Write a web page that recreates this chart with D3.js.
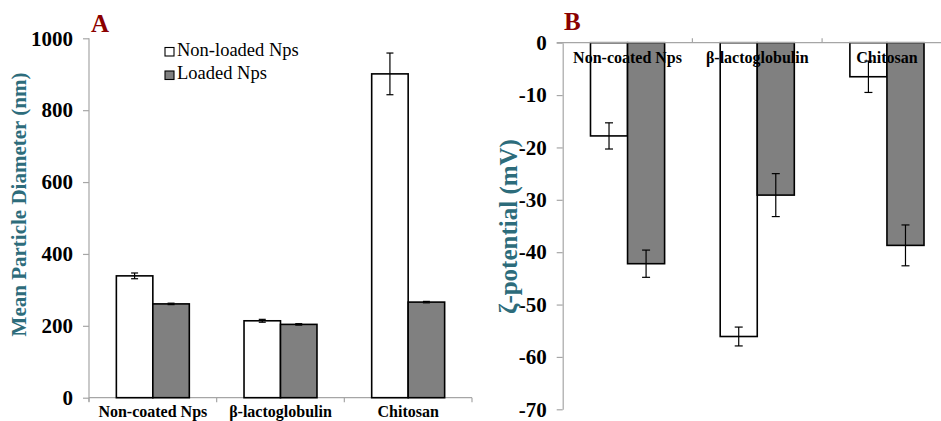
<!DOCTYPE html>
<html><head><meta charset="utf-8">
<script src="https://cdn.jsdelivr.net/npm/d3@7"></script>
<style>
body{margin:0;background:#fff;}
svg text{font-family:"Liberation Serif","Times New Roman",serif !important;}
</style></head>
<body><svg id="c" width="941" height="421"></svg>
<script>
const categories = ["Non-coated Nps", "β-lactoglobulin", "Chitosan"];
const series = ["Non-loaded Nps", "Loaded Nps"];
// Panel A: mean particle diameter (nm)
const sizeNonLoaded = [339, 214, 901];
const sizeNonLoadedErr = [8, 4, 58];
const sizeLoaded = [261, 204, 266];
const sizeLoadedErr = [2, 2, 2];
const sizeTicks = [0, 200, 400, 600, 800, 1000];
// Panel B: zeta potential (mV)
const zetaNonLoaded = [-17.8, -56.1, -6.5];
const zetaNonLoadedErr = [2.5, 1.8, 3.0];
const zetaLoaded = [-42.2, -29.1, -38.7];
const zetaLoadedErr = [2.6, 4.1, 3.9];
const zetaTicks = [0, -10, -20, -30, -40, -50, -60, -70];

const colors = {"Non-loaded Nps": "#ffffff", "Loaded Nps": "#808080"};
const axisColor = "#a6a6a6";
const titleColor = "#2d6c7b";
const letterColor = "#8b0000";

const svg = d3.select("#c");

function rows(vA, eA, vB, eB) {
  return categories.map((c, i) => ({cat: c, vals: [
    {s: series[0], v: vA[i], e: eA[i]},
    {s: series[1], v: vB[i], e: eB[i]}
  ]}));
}

function styleYAxis(g, fs) {
  g.attr("font-family", null);
  g.select(".domain").attr("stroke", axisColor).attr("stroke-width", 1.2);
  g.selectAll(".tick line").attr("stroke", axisColor).attr("stroke-width", 1.2);
  g.selectAll(".tick text").attr("font-size", fs).attr("font-weight", "bold").attr("fill", "#000");
}

const plainFmt = d => String(d);

// ---------- Panel A ----------
{
  const x0 = d3.scaleBand().domain(categories).range([89, 472]).padding(0);
  const x1 = d3.scaleBand().domain(series).range([0, x0.bandwidth()]).paddingInner(0).paddingOuter(0.75);
  const y = d3.scaleLinear().domain([0, 1000]).range([397.7, 38.3]);
  const data = rows(sizeNonLoaded, sizeNonLoadedErr, sizeLoaded, sizeLoadedErr);

  const ya = svg.append("g").attr("transform", "translate(89,0)")
    .call(d3.axisLeft(y).tickValues(sizeTicks).tickFormat(plainFmt).tickSize(6).tickSizeOuter(0).tickPadding(10));
  styleYAxis(ya, 21);
  ya.select(".domain").attr("d", `M0,${y(1000)}V${y(0) + 4}`);

  const bounds = categories.map(c => x0(c)).concat([x0(categories[2]) + x0.bandwidth()]);
  svg.append("line").attr("x1", x0.range()[0]).attr("x2", x0.range()[1])
    .attr("y1", y(0)).attr("y2", y(0)).attr("stroke", axisColor).attr("stroke-width", 1.2);
  svg.selectAll(".xta").data(bounds).join("line").attr("class", "xta")
    .attr("x1", d => d).attr("x2", d => d).attr("y1", y(0)).attr("y2", y(0) + 4.5)
    .attr("stroke", axisColor).attr("stroke-width", 1.2);

  const grp = svg.selectAll(".ga").data(data).join("g").attr("class", "ga")
    .attr("transform", d => `translate(${x0(d.cat)},0)`);
  grp.selectAll("rect").data(d => d.vals).join("rect")
    .attr("x", d => x1(d.s)).attr("width", x1.bandwidth())
    .attr("y", d => y(d.v)).attr("height", d => y(0) - y(d.v))
    .attr("fill", d => colors[d.s]).attr("stroke", "#000").attr("stroke-width", 1.6);
  const eb = grp.selectAll(".eb").data(d => d.vals).join("g").attr("class", "eb")
    .attr("transform", d => `translate(${x1(d.s) + x1.bandwidth() / 2},0)`);
  eb.append("line").attr("y1", d => y(d.v + d.e)).attr("y2", d => y(d.v - d.e)).attr("stroke", "#000").attr("stroke-width", 1.2);
  eb.append("line").attr("x1", -3.5).attr("x2", 3.5).attr("y1", d => y(d.v + d.e)).attr("y2", d => y(d.v + d.e)).attr("stroke", "#000").attr("stroke-width", 1.2);
  eb.append("line").attr("x1", -3.5).attr("x2", 3.5).attr("y1", d => y(d.v - d.e)).attr("y2", d => y(d.v - d.e)).attr("stroke", "#000").attr("stroke-width", 1.2);

  svg.selectAll(".cla").data(categories).join("text").attr("class", "cla")
    .attr("x", d => x0(d) + x0.bandwidth() / 2).attr("y", 417)
    .attr("text-anchor", "middle").attr("font-size", 16).attr("font-weight", "bold").text(d => d);

  svg.append("text").attr("transform", "translate(26,204.5) rotate(-90)")
    .attr("text-anchor", "middle").attr("font-size", 21).attr("font-weight", "bold")
    .attr("fill", titleColor).text("Mean Particle Diameter (nm)");

  svg.append("text").attr("x", 91).attr("y", 32).attr("font-size", 25).attr("font-weight", "bold")
    .attr("fill", letterColor).text("A");

  const lg = svg.selectAll(".lg").data(series).join("g").attr("class", "lg")
    .attr("transform", (d, i) => `translate(165,${47.5 + i * 23.5})`);
  lg.append("rect").attr("width", 9).attr("height", 8.5).attr("fill", d => colors[d])
    .attr("stroke", "#000").attr("stroke-width", 1.1);
  lg.append("text").attr("x", 12).attr("y", 8).attr("font-size", 18.5).attr("fill", "#000").text(d => d);
}

// ---------- Panel B ----------
{
  const x0 = d3.scaleBand().domain(categories).range([562.7, 951.8]).padding(0);
  const x1 = d3.scaleBand().domain(series).range([0, x0.bandwidth()]).paddingInner(0).paddingOuter(0.75);
  const y = d3.scaleLinear().domain([-70, 0]).range([409.3, 42.7]);
  const data = rows(zetaNonLoaded, zetaNonLoadedErr, zetaLoaded, zetaLoadedErr);

  const grp = svg.selectAll(".gb").data(data).join("g").attr("class", "gb")
    .attr("transform", d => `translate(${x0(d.cat)},0)`);
  grp.selectAll("rect").data(d => d.vals).join("rect")
    .attr("x", d => x1(d.s)).attr("width", x1.bandwidth())
    .attr("y", y(0)).attr("height", d => y(d.v) - y(0))
    .attr("fill", d => colors[d.s]).attr("stroke", "#000").attr("stroke-width", 1.6);

  svg.selectAll(".clb").data(categories).join("text").attr("class", "clb")
    .attr("x", d => x0(d) + x0.bandwidth() / 2).attr("y", 63)
    .attr("text-anchor", "middle").attr("font-size", 16).attr("font-weight", "bold").text(d => d);

  const eb = grp.selectAll(".eb").data(d => d.vals).join("g").attr("class", "eb")
    .attr("transform", d => `translate(${x1(d.s) + x1.bandwidth() / 2},0)`);
  eb.append("line").attr("y1", d => y(d.v + d.e)).attr("y2", d => y(d.v - d.e)).attr("stroke", "#000").attr("stroke-width", 1.2);
  eb.append("line").attr("x1", -4).attr("x2", 4).attr("y1", d => y(d.v + d.e)).attr("y2", d => y(d.v + d.e)).attr("stroke", "#000").attr("stroke-width", 1.2);
  eb.append("line").attr("x1", -4).attr("x2", 4).attr("y1", d => y(d.v - d.e)).attr("y2", d => y(d.v - d.e)).attr("stroke", "#000").attr("stroke-width", 1.2);

  const yb = svg.append("g").attr("transform", "translate(562.7,0)")
    .call(d3.axisLeft(y).tickValues(zetaTicks).tickFormat(plainFmt).tickSize(6).tickSizeOuter(0).tickPadding(10));
  styleYAxis(yb, 21);

  const bounds = categories.map(c => x0(c)).concat([x0(categories[2]) + x0.bandwidth()]);
  svg.append("line").attr("x1", x0.range()[0] - 6).attr("x2", x0.range()[1])
    .attr("y1", y(0)).attr("y2", y(0)).attr("stroke", axisColor).attr("stroke-width", 1.2);
  svg.selectAll(".xtb").data(bounds.slice(1)).join("line").attr("class", "xtb")
    .attr("x1", d => d).attr("x2", d => d).attr("y1", y(0)).attr("y2", y(0) - 4.5)
    .attr("stroke", axisColor).attr("stroke-width", 1.2);

  svg.append("text").attr("transform", "translate(517,226.5) rotate(-90)")
    .attr("text-anchor", "middle").attr("font-size", 25).attr("font-weight", "bold")
    .attr("fill", titleColor).text("ζ-potential (mV)");

  svg.append("text").attr("x", 564).attr("y", 29.5).attr("font-size", 25).attr("font-weight", "bold")
    .attr("fill", letterColor).text("B");
}
</script></body></html>
